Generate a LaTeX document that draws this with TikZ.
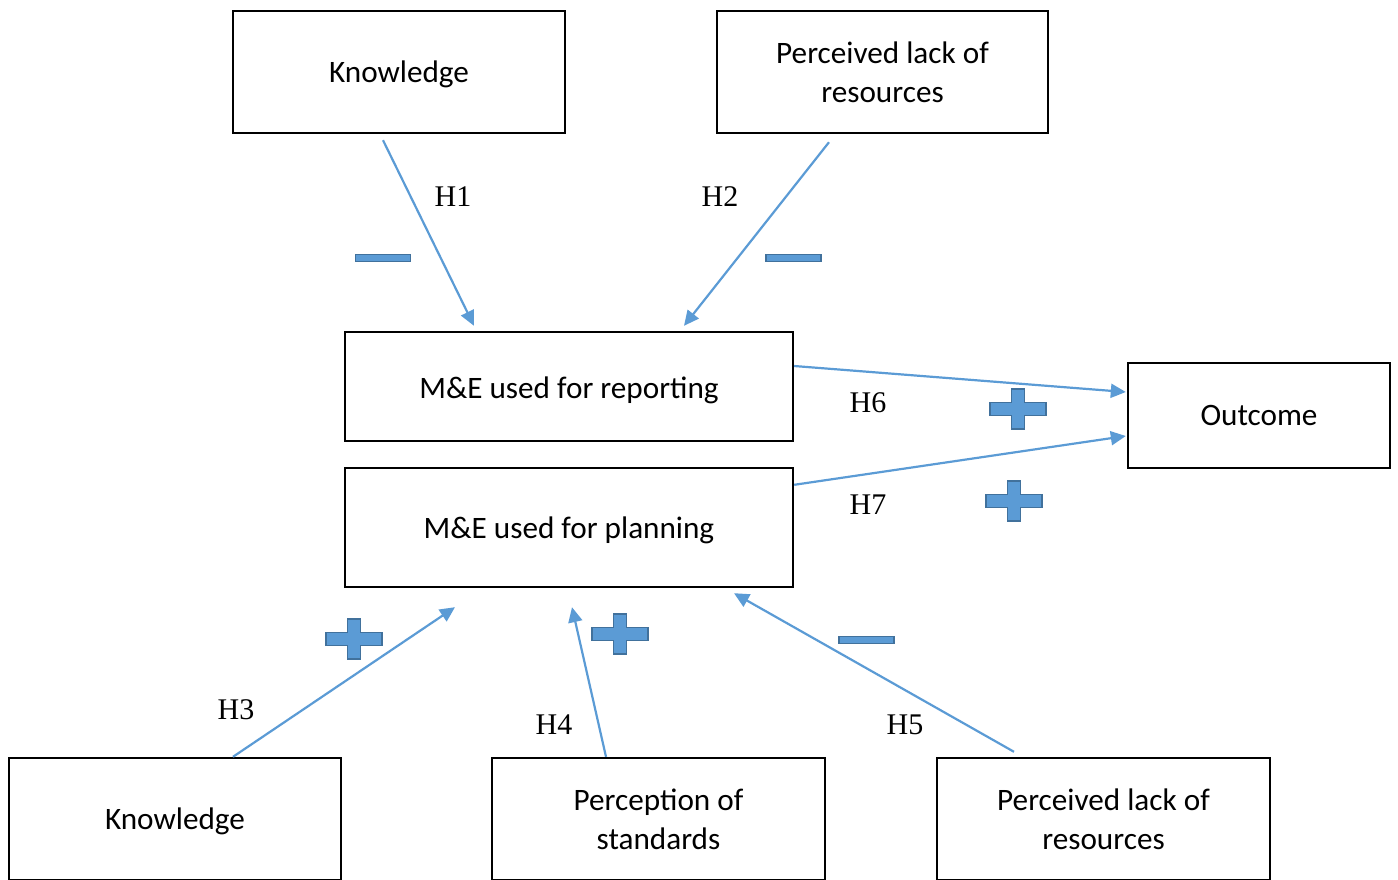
\documentclass[tikz,border=0pt]{standalone}
\usepackage{fontspec}
\setmainfont{Carlito}
\newfontfamily\timesf{Liberation Serif}
\usetikzlibrary{arrows.meta,calc}
\definecolor{arrblue}{HTML}{5B9BD5}
\definecolor{signedge}{HTML}{41719C}
\tikzset{
 box/.style={draw=black, line width=1.2pt, fill=white, align=center, font=\fontsize{15.6}{19.5}\selectfont, inner sep=0pt, text depth=0pt},
 arr/.style={draw=arrblue, line width=1.1pt, -{Triangle[length=7.5pt,width=7pt]}},
 hlab/.style={font=\timesf\fontsize{15}{18}\selectfont, inner sep=0pt},
 pics/plussign/.style={code={\filldraw[fill=arrblue,draw=signedge,line width=0.7pt] (-28,-6.5) -- (-6.5,-6.5) -- (-6.5,-20) -- (6.5,-20) -- (6.5,-6.5) -- (28,-6.5) -- (28,6.5) -- (6.5,6.5) -- (6.5,20) -- (-6.5,20) -- (-6.5,6.5) -- (-28,6.5) -- cycle;}},
 pics/minussign/.style={code={\filldraw[fill=arrblue,draw=signedge,line width=0.7pt] (-27.5,-3.5) rectangle (27.5,3.5);}},
}
\begin{document}
\begin{tikzpicture}[x=0.5pt,y=-0.5pt]
\useasboundingbox (0,0) rectangle (1398,879);
\clip (0,0) rectangle (1398,879);
% boxes
\node[box, minimum width=166pt, minimum height=61pt] (kn1) at (399,72) {Knowledge};
\node[box, minimum width=165.5pt, minimum height=61pt] (pl1) at (882.5,72) {Perceived lack of\\resources};
\node[box, minimum width=224pt, minimum height=54.5pt] (rep) at (569,386.5) {\raisebox{-1pt}{M\&E used for reporting}};
\node[box, minimum width=224pt, minimum height=59.5pt] (plan) at (569,527.5) {M\&E used for planning};
\node[box, minimum width=131pt, minimum height=52.5pt] (out) at (1259,415.5) {Outcome};
\node[box, minimum width=166pt, minimum height=61pt] (kn2) at (175,819) {Knowledge};
\node[box, minimum width=166.5pt, minimum height=61pt] (std) at (658.5,819) {Perception of\\standards};
\node[box, minimum width=166.5pt, minimum height=61pt] (pl2) at (1103.5,819) {Perceived lack of\\resources};
% connectors
\draw[arr] ($(kn1.south)+(-16,6)$) -- ($(rep.north)+(-95,-5)$);
\draw[arr] ($(pl1.south)+(-53.5,8)$) -- ($(rep.north)+(115,-5)$);
\draw[arr] ($(rep.east)+(0,-20.5)$) -- ($(out.west)+(-1,-23.5)$);
\draw[arr] ($(plan.north east)+(0,18)$) -- ($(out.west)+(-1,20.5)$);
\draw[arr] ($(kn2.north)+(58,0)$) -- ($(plan.south)+(-114,19)$);
\draw[arr] ($(std.north)+(-52.5,0)$) -- ($(plan.south)+(3,19)$);
\draw[arr] ($(pl2.north)+(-89.5,-5)$) -- ($(plan.south)+(165,5)$);
% labels
\node[hlab] (h1) at (453,197) {H1};
\node[hlab] (h2) at (720,197) {H2};
\node[hlab] (h6) at (868,403) {H6};
\node[hlab] (h7) at (868,505) {H7};
\node[hlab] (h3) at (236,710) {H3};
\node[hlab] (h4) at (554,725) {H4};
\node[hlab] (h5) at (905,725) {H5};
% signs
\pic at (383,258) {minussign};
\pic at (793.5,258) {minussign};
\pic at (866.5,640) {minussign};
\pic at (1018,409) {plussign};
\pic at (1014,501) {plussign};
\pic at (354,639) {plussign};
\pic at (620,634) {plussign};
\end{tikzpicture}
\end{document}
